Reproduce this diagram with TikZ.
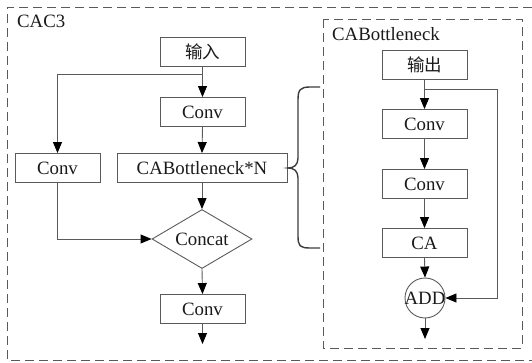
\documentclass[tikz,border=0pt]{standalone}
\usepackage{fontspec}
\setmainfont{Liberation Serif}
\newfontfamily\cjk{Noto Sans CJK SC}
\usetikzlibrary{arrows.meta,shapes.geometric}
\definecolor{edge}{HTML}{5A5A5A}
\definecolor{ink}{HTML}{1A1A1A}
\tikzset{
  box/.style={draw=edge, line width=0.9pt, minimum width=85pt, minimum height=29pt,
              inner sep=0pt, text=ink, font=\fontsize{18.8}{20}\selectfont},
  joint/.style={draw=edge, line width=0.9pt, diamond, shape aspect=1.7,
                minimum width=100pt, minimum height=59pt, inner sep=0pt,
                text=ink, font=\fontsize{18.8}{20}\selectfont},
  adder/.style={draw=edge, line width=0.9pt, circle, minimum size=40pt, inner sep=0pt},
  label/.style={text=ink, font=\fontsize{18.8}{20}\selectfont, inner sep=0pt, anchor=west},
  flow/.style={draw=edge, line width=0.9pt,
               -{Triangle[length=11pt,width=9pt,fill=black,color=black]}},
  link/.style={draw=edge, line width=0.9pt},
  frame/.style={draw=edge, line width=0.9pt, dash pattern=on 9pt off 5pt}
}
\begin{document}
\begin{tikzpicture}[x=1pt,y=-1pt]
\useasboundingbox (0,0) rectangle (532,363);

% outer module frame (its right side runs past the page edge)
\draw[frame] (532,7) -- (7,7) -- (7,360) -- (532,360);
\node[label] (cac) at (17,21) {CAC3};

% inner bottleneck frame
\draw[frame] (323,19) rectangle (522,348);
\node[label] (cab) at (332,34) {CABottleneck};

% left branch: CAC3
\node[box] (in)  at (202.5,52)  {\cjk\fontsize{17.5}{20}\selectfont 输入};
\node[box] (c1)  at (202.5,112) {Conv};
\node[box, minimum width=85pt] (cl) at (57.5,168) {Conv};
\node[box, minimum width=170pt] (bn) at (202,168) {CABottleneck*N};
\node[joint] (cat) at (202,239) {Concat};
\node[box] (cb)  at (202.5,309) {Conv};
\coordinate (br)   at (202.5,74);
\coordinate (end1) at (202.5,344);

\draw[link] (in.south) -- (br);
\draw[flow] (br) -- (c1.north);
\draw[flow] (br) -| (cl.north);
\draw[flow] (c1.south) -- (bn.north);
\draw[flow] (bn.south) -- (cat.north);
\draw[flow] (cl.south) |- (cat.west);
\draw[flow] (cat.south) -- (cb.north);
\draw[flow] (cb.south) -- (end1);

% right branch: CABottleneck
\node[box] (out) at (424.5,64.5) {\cjk\fontsize{17.5}{20}\selectfont 输出};
\node[box] (r1)  at (424.5,124)  {Conv};
\node[box] (r2)  at (424.5,184)  {Conv};
\node[box] (ca)  at (424.5,243)  {CA};
\node[adder] (add) at (425,298) {};
\node[text=ink, font=\fontsize{18.8}{20}\selectfont, inner sep=0pt] (addt) at (add) {ADD};
\coordinate (sk)   at (424.5,89);
\coordinate (skr)  at (497,89);
\coordinate (end2) at (425,339);

\draw[link] (out.south) -- (sk);
\draw[flow] (sk) -- (r1.north);
\draw[flow] (r1.south) -- (r2.north);
\draw[flow] (r2.south) -- (ca.north);
\draw[flow] (ca.south) -- (add.north);
\draw[link] (sk) -- (skr);
\draw[flow] (skr) |- (add.east);
\draw[flow] (add.south) -- (end2);

% brace tying CABottleneck*N to its detail frame
\draw[draw=ink!85, line width=1.4pt]
  (320,87) -- (310,87) .. controls (300,87) and (298,90) .. (298,100)
  -- (298,158) .. controls (298,165) and (294,168) .. (288,168)
  .. controls (294,168) and (298,171) .. (298,178)
  -- (298,236) .. controls (298,246) and (300,248) .. (310,248) -- (320,248);
\end{tikzpicture}
\end{document}
